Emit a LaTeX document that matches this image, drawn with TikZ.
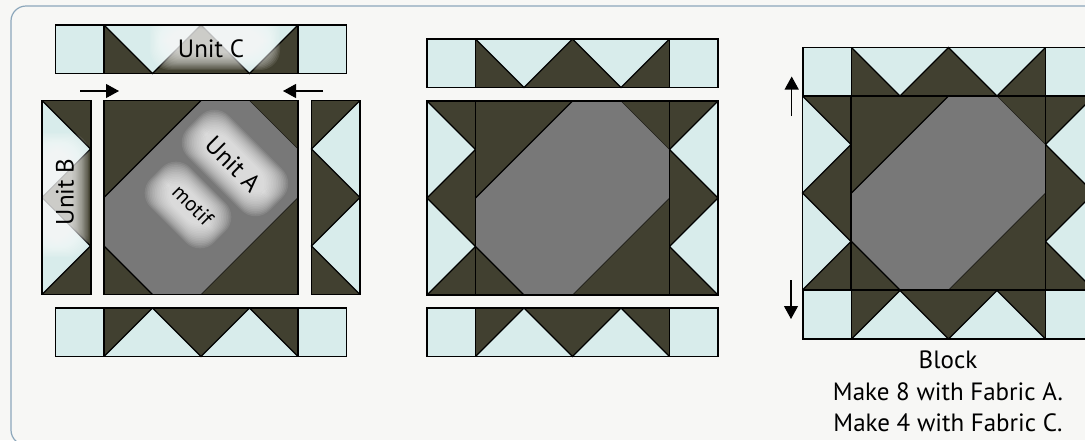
\documentclass[tikz,border=0pt]{standalone}
\usepackage{xcolor}
\usepackage{fontspec}
\setmainfont{PT Sans}
\usetikzlibrary{calc,arrows.meta}
\definecolor{paper}{RGB}{247,247,245}
\definecolor{frameblue}{RGB}{140,167,187}
\definecolor{fabricdark}{RGB}{65,64,48}
\definecolor{fabriclight}{RGB}{216,236,235}
\definecolor{motifgray}{RGB}{120,120,120}

% soft white patch behind a label: centre x, centre y, angle, width, height
\newcommand{\glowpatch}[5]{
	\begin{scope}[shift={(#1,#2)},rotate=#3]
		\foreach \g in {0,1.2,...,17}{
			\fill[white, opacity=0.09, rounded corners=20pt]
			({-(#4)/2+\g},{-(#5)/2+\g}) rectangle ({(#4)/2-\g},{(#5)/2-\g});
		}
	\end{scope}
}
% strip of four half-squares, outer edge on y=0
\newcommand{\wingstrip}{
	\fill[fabricdark] (0,0) rectangle (4,1);
	\fill[fabriclight] (0,0) -- (2,0) -- (1,1) -- cycle;
	\fill[fabriclight] (2,0) -- (4,0) -- (3,1) -- cycle;
	\draw[seam] (0,0) -- (1,1) -- (2,0) -- (3,1) -- (4,0);
	\draw[seam] (0,0) rectangle (4,1);
}
\newcommand{\cornersquares}{
	\filldraw[fill=fabriclight, seam] (-1,0) rectangle (0,1);
	\filldraw[fill=fabriclight, seam] (4,0) rectangle (5,1);
}
\newcommand{\centersquare}{
	\fill[fabricdark] (0,0) rectangle (4,4);
	\fill[motifgray] (2,0) -- (3,0) -- (4,1) -- (4,2) -- (2,4) -- (1,4) -- (0,3) -- (0,2) -- cycle;
	\draw[seam] (2,0) -- (0,2);
	\draw[seam] (1,4) -- (0,3);
	\draw[fabricdark!40!black, line width=0.7pt] (3,0) -- (4,1);
	\draw[fabricdark!40!black, line width=0.7pt] (4,2) -- (2,4);
	\draw[seam] (0,0) rectangle (4,4);
}

\begin{document}
\begin{tikzpicture}[
		x=1pt,
		y=-1pt,
		>=Latex,
		cell/.style={x=48.5pt,y=-48.5pt},
		seam/.style={draw=black, line width=1.1pt},
		pushline/.style={-{Triangle[length=13pt,width=14pt]}, line width=1.1pt, draw=black},
		label/.style={font=\fontsize{25}{30}\selectfont, text=black, inner sep=0pt},
		smalllabel/.style={font=\fontsize{21}{25}\selectfont, text=black, inner sep=0pt}
	]
	
	% Canvas
	\useasboundingbox (0,0) rectangle (1085,440);
	\clip (0,0) rectangle (1085,440);
	\fill[paper] (0,0) rectangle (1085,440);
	\draw[frameblue, line width=1.2pt, rounded corners=15pt] (11,6) rectangle (1110,445);
	
	% Units of the three stages
	\foreach \ax/\lx/\rx/\ty/\ay/\by in {104/42/360/25/100.5/308,475.5/427/718/39/101/308,851.5/802.5/1094/47.5/96/290.5}{
		% Unit B
		\begin{scope}[shift={(\lx,\ay+194)},rotate=90,cell]
			\wingstrip
		\end{scope}
		\begin{scope}[shift={(\rx,\ay)},rotate=-90,cell]
			\wingstrip
		\end{scope}
		% Unit A
		\begin{scope}[shift={(\ax,\ay)},cell]
			\centersquare
		\end{scope}
		% Unit C
		\begin{scope}[shift={(\ax,\ty)},cell]
			\wingstrip
			\cornersquares
		\end{scope}
		\begin{scope}[shift={(\ax+194,\by+48.5)},rotate=180,cell]
			\wingstrip
			\cornersquares
		\end{scope}
	}
	
	% Glow behind labels
	\begin{scope}
		\clip (55.5,25) rectangle (347,73.5);
		\glowpatch{215}{41}{0}{130}{58}
	\end{scope}
	\begin{scope}
		\clip (42,100.5) rectangle (91,294.5);
		\glowpatch{57}{195}{90}{124}{64}
	\end{scope}
	\glowpatch{235}{163}{-45}{116}{58}
	\glowpatch{188}{205}{-45}{90}{56}
	
	% Edges back over the glow
	\draw[seam] (104,25) rectangle (298,73.5);
	\draw[seam] (42,100.5) rectangle (91,294.5);
	
	% Labels
	\node[label] (unitC) at (211,49) {Unit C};
	\node[label, rotate=90] (unitB) at (65,192) {Unit B};
	\node[label, rotate=-45] (unitA) at (233,164) {Unit A};
	\node[smalllabel, rotate=-45] (motif) at (193,205) {motif};
	\node[label] (blockname) at (948,360) {Block};
	\node[label] (makeA) at (948,392) {Make 8 with Fabric A.};
	\node[label] (makeC) at (948,423) {Make 4 with Fabric C.};
	
	% Pressing arrows
	\coordinate (pushAtail) at (80,91);
	\coordinate (pushAhead) at (119,91);
	\coordinate (pushBtail) at (323,91);
	\coordinate (pushBhead) at (283,91);
	\coordinate (pushCtail) at (791.7,116);
	\coordinate (pushChead) at (791.7,76.5);
	\coordinate (pushDtail) at (791,280);
	\coordinate (pushDhead) at (791,319);
	\draw[pushline] (pushAtail) -- (pushAhead);
	\draw[pushline] (pushBtail) -- (pushBhead);
	\draw[pushline] (pushCtail) -- (pushChead);
	\draw[pushline] (pushDtail) -- (pushDhead);
	
\end{tikzpicture}
\end{document}
